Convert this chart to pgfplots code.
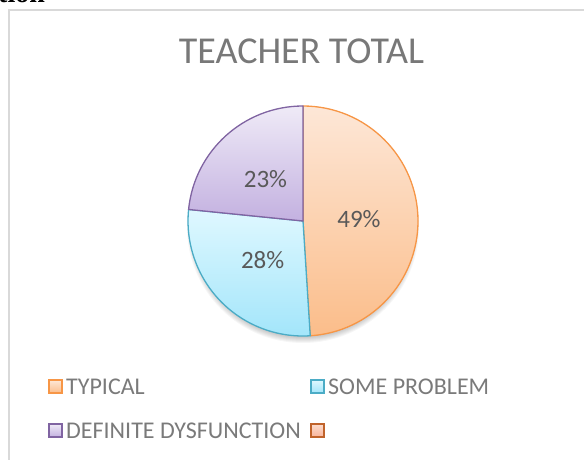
\documentclass[border=0pt]{standalone}
\usepackage{pgfplots}
\pgfplotsset{compat=1.18}
\usetikzlibrary{calc}
\usepackage{fontspec}
\setmainfont{Carlito}
\newfontfamily\docserif{Liberation Serif}

\definecolor{pkT}{HTML}{FDE7D7}
\definecolor{pkB}{HTML}{FBBD8A}
\definecolor{pkE}{HTML}{F79646}
\definecolor{blT}{HTML}{DFF8FF}
\definecolor{blB}{HTML}{A2E5FA}
\definecolor{blE}{HTML}{4BACC6}
\definecolor{puT}{HTML}{EFEAF7}
\definecolor{puB}{HTML}{C3B1E0}
\definecolor{puE}{HTML}{8064A2}
\definecolor{rdT}{HTML}{FCDCCD}
\definecolor{rdB}{HTML}{F8B49B}
\definecolor{rdE}{HTML}{C0632B}
\definecolor{titlegray}{HTML}{787878}
\definecolor{labgray}{HTML}{595959}
\definecolor{leggray}{HTML}{7A7A7A}
\definecolor{framegray}{HTML}{D9D9D9}

\begin{document}
\begin{tikzpicture}[x=1pt,y=1pt]
\useasboundingbox (0,0) rectangle (584,459);
\clip (0,0) rectangle (584,459);
\begin{axis}[
    at={(0,0)}, anchor=origin,
    scale only axis, width=584pt, height=459pt,
    xmin=0, xmax=584, ymin=0, ymax=459,
    hide axis, clip=false]
\pgfplotsextra{
  % clipped text of the page above the chart
  \node[anchor=base west, inner sep=0, font=\docserif\bfseries\fontsize{28}{30}\selectfont] at (-2,456) {tion};
  % chart frame
  \draw[framegray, line width=1.5pt] (9,-10) -- (9,449) -- (600,449);
  % title
  \node[anchor=base, inner sep=0, text=titlegray, font=\fontsize{38}{40}\selectfont] at (301.5,395) {TEACHER TOTAL};
  % soft shadow
  \foreach \k in {0,...,6} {
    \fill[black, opacity=0.035] (303,232) circle[radius=110+\k];
  }
  % slices, clockwise from 12 o'clock
  \foreach \v/\ct/\cb/\ce [remember=\b as \a (initially 90)] in
      {49/pkT/pkB/pkE, 27.6/blT/blB/blE, 23.4/puT/puB/puE} {
    \pgfmathsetmacro{\b}{\a-3.6*\v}
    \pgfmathsetmacro{\m}{(\a+\b)/2}
    \fill[top color=\ct, bottom color=\cb] (303,238) -- ++(\a:115)
      arc[start angle=\a, end angle=\b, radius=115] -- cycle;
    \draw[\ce, line width=1.3pt, line join=round] (303,238) -- ++(\a:115)
      arc[start angle=\a, end angle=\b, radius=115] -- cycle;
    \node[text=labgray, inner sep=0, font=\fontsize{25}{30}\selectfont]
      at ($(303,238)+(\m:56)$)
      {\pgfmathprintnumber[fixed,precision=0,assume math mode=true]{\v}\%};
  }
  % legend
  \foreach \x/\y/\ct/\cb/\ce/\txt in
      {55.5/72.5/pkT/pkB/pkE/TYPICAL,
       317.5/72.5/blT/blB/blE/SOME PROBLEM,
       55.5/28.5/puT/puB/puE/DEFINITE DYSFUNCTION,
       317.5/28.5/rdT/rdB/rdE/} {
    \fill[top color=\ct, bottom color=\cb] (\x-6.5,\y-6.5) rectangle (\x+6.5,\y+6.5);
    \draw[\ce, line width=1.6pt] (\x-6.5,\y-6.5) rectangle (\x+6.5,\y+6.5);
    \node[anchor=base west, inner sep=0, text=leggray, font=\fontsize{24}{26}\selectfont]
      at (\x+10.5,\y-7.5) {\txt};
  }
}
\end{axis}
\end{tikzpicture}
\end{document}
